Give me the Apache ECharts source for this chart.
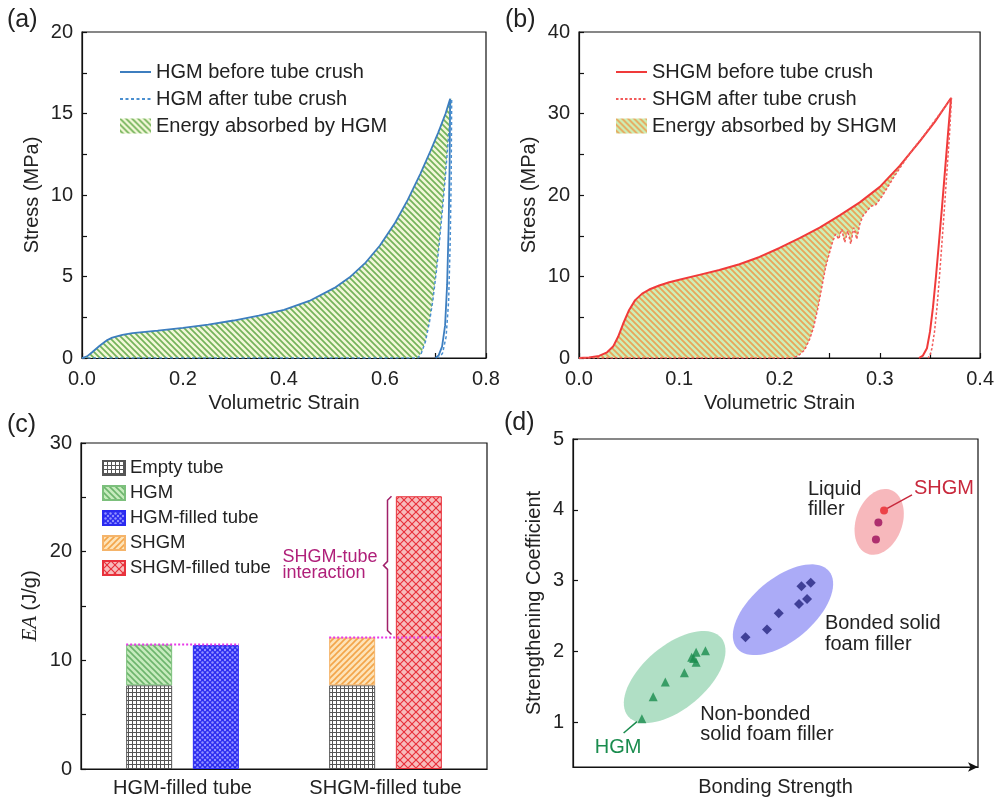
<!DOCTYPE html>
<html>
<head>
<meta charset="utf-8">
<script src="https://cdn.jsdelivr.net/npm/echarts@6/dist/echarts.min.js"></script>
<style>
  html, body { margin: 0; padding: 0; background: #fff; }
  #chart { width: 997px; height: 803px; }
</style>
</head>
<body>
<div id="chart"></div>
<script>
const FONT = '"Liberation Sans", Arial, sans-serif';
const INK = "#222";
const FS = 20;

// (a) HGM stress-strain, before / after tube crush
const hgmLoadX = [0, 0.01, 0.02, 0.035, 0.05, 0.06, 0.08, 0.1, 0.15, 0.2, 0.25, 0.3, 0.35, 0.4, 0.45, 0.5, 0.53, 0.56, 0.59, 0.62, 0.645, 0.67, 0.69, 0.705, 0.72, 0.729];
const hgmLoadY = [0, 0.1, 0.35, 0.75, 1.1, 1.25, 1.42, 1.52, 1.68, 1.85, 2.05, 2.3, 2.6, 2.95, 3.5, 4.3, 4.95, 5.8, 6.9, 8.3, 9.7, 11.3, 12.7, 13.8, 15.0, 15.9];
const hgmUnloadX = [0.728, 0.726, 0.723, 0.719, 0.713, 0.706, 0.7];
const hgmUnloadY = [12, 8, 4.5, 2, 0.7, 0.15, 0];
const hgmAfterLoadX = [0, 0.665, 0.672, 0.68, 0.688, 0.695, 0.702, 0.708, 0.714, 0.72, 0.725, 0.729, 0.732];
const hgmAfterLoadY = [0, 0, 0.3, 1.0, 2.2, 3.6, 5.4, 7.2, 9.2, 11.3, 13.3, 14.8, 15.9];
const hgmAfterUnloadX = [0.731, 0.729, 0.726, 0.721, 0.714, 0.707];
const hgmAfterUnloadY = [11, 7, 3.5, 1.3, 0.3, 0];

// (b) SHGM stress-strain
const shgmLoadX = [0, 0.01, 0.02, 0.028, 0.034, 0.039, 0.044, 0.05, 0.056, 0.063, 0.07, 0.08, 0.09, 0.1, 0.12, 0.14, 0.16, 0.18, 0.2, 0.22, 0.24, 0.26, 0.28, 0.3, 0.32, 0.34, 0.355, 0.371];
const shgmLoadY = [0, 0.05, 0.25, 0.7, 1.4, 2.6, 4.2, 5.9, 7.1, 7.9, 8.4, 8.9, 9.3, 9.6, 10.2, 10.8, 11.5, 12.4, 13.5, 14.7, 16.0, 17.5, 19.1, 21.0, 23.6, 26.6, 29.0, 31.9];
const shgmUnloadX = [0.368, 0.365, 0.362, 0.359, 0.356, 0.353, 0.35, 0.347, 0.343, 0.339];
const shgmUnloadY = [27.5, 23, 18.5, 14.2, 10, 6.2, 3.2, 1.2, 0.3, 0];
const shgmAfterLoadX = [0, 0.213, 0.219, 0.225, 0.23, 0.234, 0.238, 0.242, 0.246, 0.25, 0.253, 0.256, 0.259, 0.262, 0.265, 0.268, 0.271, 0.274, 0.277, 0.28, 0.283, 0.287, 0.291, 0.296, 0.302, 0.308, 0.314, 0.32, 0.326, 0.333, 0.34, 0.347, 0.354, 0.362, 0.3715];
const shgmAfterLoadY = [0, 0, 0.3, 1.0, 2.3, 3.8, 6.0, 8.6, 11.2, 13.0, 14.3, 15.2, 14.6, 15.8, 14.2, 15.6, 14.0, 16.0, 14.6, 16.4, 17.4, 18.0, 18.6, 18.8, 19.8, 21.0, 22.2, 23.3, 24.4, 25.6, 26.7, 27.8, 29.0, 30.3, 31.9];
const shgmAfterUnloadX = [0.3695, 0.367, 0.3645, 0.362, 0.3595, 0.357, 0.3545, 0.352, 0.35, 0.348];
const shgmAfterUnloadY = [27.5, 23, 18.5, 14.2, 10, 6.2, 3.2, 1.2, 0.3, 0];

// (c) energy absorption
const eaCategories = ["HGM-filled tube", "SHGM-filled tube"];
const eaEmptyTube = [7.7, 7.7];
const eaHgm = [3.75, null];
const eaShgm = [null, 4.4];
const eaHgmFilled = [11.4, null];
const eaShgmFilled = [null, 25.1];

// (d) strengthening coefficient vs bonding strength
const nonBondedX = [1.70, 1.98, 2.28, 2.75, 2.93, 3.04, 3.04, 2.98, 3.27];
const nonBondedY = [1.05, 1.36, 1.57, 1.70, 1.92, 1.99, 1.85, 1.90, 2.01];
const bondedX = [4.26, 4.79, 5.08, 5.58, 5.78, 5.64, 5.87];
const bondedY = [2.20, 2.31, 2.54, 2.67, 2.74, 2.92, 2.97];
const liquidX = [7.48, 7.54];
const liquidY = [3.58, 3.82];
const shgmPointX = [7.68];
const shgmPointY = [3.99];
const ellipseCenterX = [2.51, 5.185, 7.56];
const ellipseCenterY = [1.64, 2.59, 3.83];
const ellipseMajorDX = [1.15, 1.135, 0.287];
const ellipseMajorDY = [0.553, 0.545, 0.451];
const ellipseMinorRatio = [0.52, 0.52, 0.68];
const ellipseColors = ["rgba(150,212,178,0.75)", "rgba(150,150,245,0.8)", "rgba(244,160,165,0.75)"];

function zip(xs, ys) {
  return xs.map((x, i) => [x, ys[i]]);
}

function makePattern(size, bg, paint) {
  const c = document.createElement("canvas");
  c.width = size;
  c.height = size;
  const ctx = c.getContext("2d");
  ctx.fillStyle = bg;
  ctx.fillRect(0, 0, size, size);
  paint(ctx, size);
  return { image: c, repeat: "repeat" };
}

function backLines(color, w) {
  return (ctx, s) => {
    ctx.strokeStyle = color;
    ctx.lineWidth = w;
    ctx.beginPath();
    for (let k = -1; k <= 1; k++) {
      ctx.moveTo(k * s - s, -s);
      ctx.lineTo(k * s + 2 * s, 2 * s);
    }
    ctx.stroke();
  };
}

function fwdLines(color, w) {
  return (ctx, s) => {
    ctx.strokeStyle = color;
    ctx.lineWidth = w;
    ctx.beginPath();
    for (let k = 0; k <= 2; k++) {
      ctx.moveTo(k * s + s, -s);
      ctx.lineTo(k * s - 2 * s, 2 * s);
    }
    ctx.stroke();
  };
}

const hatchHgm = makePattern(6, "#f2f7d8", backLines("#74b35a", 1.7));
const hatchShgm = makePattern(6, "#cdefb6", backLines("#e9a55a", 1.8));
const patEmpty = makePattern(4, "#ffffff", (ctx, s) => {
  ctx.fillStyle = "#555";
  ctx.fillRect(0, 0, s, 1);
  ctx.fillRect(0, 0, 1, s);
});
const patHgm = makePattern(6, "#c6ebbd", backLines("#6db56d", 1.6));
const patHgmFilled = makePattern(5, "#2b2bf0", (ctx, s) => {
  ctx.fillStyle = "#9292ff";
  [[0, 0], [s, 0], [0, s], [s, s], [s / 2, s / 2]].forEach(([x, y]) => {
    ctx.beginPath();
    ctx.arc(x, y, 1.2, 0, Math.PI * 2);
    ctx.fill();
  });
});
const patShgm = makePattern(6, "#fde3b8", fwdLines("#f3a54a", 1.6));
const patShgmFilled = makePattern(8, "#f7bcbc", (ctx, s) => {
  backLines("#e8323c", 1.2)(ctx, s);
  fwdLines("#e8323c", 1.2)(ctx, s);
});

const tickFmt = (step, digits) => (v) => {
  const r = Math.round(v / step * 1000) / 1000;
  return Number.isInteger(r) ? v.toFixed(digits) : "";
};

function valueAxis(gi, min, max, interval, labelStep, digits, name, nameGap) {
  return {
    type: "value", gridIndex: gi, min, max, interval,
    name, nameLocation: "middle", nameGap,
    nameTextStyle: { fontSize: FS, fontFamily: FONT, color: INK },
    axisLine: { show: true, lineStyle: { color: "#111", width: 1.2 } },
    axisTick: { show: true, inside: true, length: 5, lineStyle: { color: "#111", width: 1.2 } },
    axisLabel: { fontSize: FS, fontFamily: FONT, color: INK, margin: 9, formatter: tickFmt(labelStep, digits) },
    splitLine: { show: false },
  };
}

function fillBetween(topX, topY, botX, botY, pattern) {
  return function (params, api) {
    const pts = [];
    for (let i = 0; i < topX.length; i++) pts.push(api.coord([topX[i], topY[i]]));
    for (let i = botX.length - 1; i >= 0; i--) pts.push(api.coord([botX[i], botY[i]]));
    return { type: "polygon", shape: { points: pts }, style: { fill: pattern } };
  };
}

const gridStyle = { show: true, borderColor: "#111", borderWidth: 1.2, backgroundColor: "transparent" };
const legendText = { fontSize: FS, fontFamily: FONT, color: INK, lineHeight: 22 };
const noSymbol = { opacity: 0 };

const chart = echarts.init(document.getElementById("chart"));

const xA = valueAxis(0, 0, 0.8, 0.1, 0.2, 1, "Volumetric Strain", 35);
const yA = valueAxis(0, 0, 20, 2.5, 5, 0, "Stress (MPa)", 40);
const xB = valueAxis(1, 0, 0.4, 0.05, 0.1, 1, "Volumetric Strain", 35);
const yB = valueAxis(1, 0, 40, 5, 10, 0, "Stress (MPa)", 40);
[xA, xB].forEach((a) => { a.axisLabel.margin = 11; });

const yC = valueAxis(2, 0, 30, 5, 10, 0, "{i|EA} (J/g)", 40);
yC.nameTextStyle.rich = { i: { fontFamily: '"Liberation Serif", serif', fontStyle: "italic", fontSize: 21, color: INK } };
const xC = {
  type: "category", gridIndex: 2, data: eaCategories,
  axisLine: { lineStyle: { color: "#111", width: 1.2 } },
  axisTick: { show: false },
  axisLabel: { fontSize: FS, fontFamily: FONT, color: INK, margin: 9 },
};

const yD = {
  type: "value", gridIndex: 3, min: 0.37, max: 5,
  name: "Strengthening Coefficient", nameLocation: "middle", nameGap: 29,
  nameTextStyle: { fontSize: FS, fontFamily: FONT, color: INK },
  axisLine: { show: true, lineStyle: { color: "#111", width: 1.2 } },
  axisTick: { show: true, inside: true, length: 5, customValues: [1, 2, 3, 4, 5], lineStyle: { color: "#111", width: 1.2 } },
  axisLabel: { fontSize: FS, fontFamily: FONT, color: INK, margin: 9, customValues: [1, 2, 3, 4, 5] },
  splitLine: { show: false },
};
const xD = {
  type: "value", gridIndex: 3, min: 0, max: 10,
  name: "Bonding Strength", nameLocation: "middle", nameGap: 10,
  nameTextStyle: { fontSize: FS, fontFamily: FONT, color: INK },
  axisLine: { show: true, symbol: ["none", "arrow"], symbolSize: [7, 10], lineStyle: { color: "#111", width: 1.2 } },
  axisTick: { show: false },
  axisLabel: { show: false },
  splitLine: { show: false },
};

const barBase = { type: "bar", xAxisIndex: 2, yAxisIndex: 2, barWidth: 46, barGap: "45%" };

const option = {
  animation: false,
  backgroundColor: "#fff",
  grid: [
    Object.assign({ left: 82, top: 32, width: 404, height: 326 }, gridStyle),
    Object.assign({ left: 579, top: 32, width: 403, height: 326 }, gridStyle),
    Object.assign({ left: 81, top: 443, width: 406, height: 326 }, gridStyle),
    Object.assign({ left: 573, top: 439, width: 405, height: 328 }, gridStyle),
  ],
  xAxis: [xA, xB, xC, xD],
  yAxis: [yA, yB, yC, yD],
  legend: [
    {
      left: 114, top: 56, orient: "vertical", itemWidth: 31, itemHeight: 15, itemGap: 5,
      selectedMode: false, textStyle: legendText,
      data: [
        { name: "HGM before tube crush", itemStyle: noSymbol },
        { name: "HGM after tube crush", itemStyle: noSymbol },
        { name: "Energy absorbed by HGM", icon: "rect", itemStyle: { color: hatchHgm } },
      ],
    },
    {
      left: 610, top: 56, orient: "vertical", itemWidth: 31, itemHeight: 15, itemGap: 5,
      selectedMode: false, textStyle: legendText,
      data: [
        { name: "SHGM before tube crush", itemStyle: noSymbol },
        { name: "SHGM after tube crush", itemStyle: noSymbol },
        { name: "Energy absorbed by SHGM", icon: "rect", itemStyle: { color: hatchShgm } },
      ],
    },
    {
      left: 97, top: 453, orient: "vertical", itemWidth: 22, itemHeight: 14, itemGap: 5, icon: "rect",
      selectedMode: false, textStyle: Object.assign({}, legendText, { fontSize: 18.5, lineHeight: 20 }),
      data: ["Empty tube", "HGM", "HGM-filled tube", "SHGM", "SHGM-filled tube"],
    },
  ],
  series: [
    // (a)
    {
      type: "custom", name: "Energy absorbed by HGM", xAxisIndex: 0, yAxisIndex: 0, clip: true,
      itemStyle: { color: hatchHgm }, data: [[0, 0]], z: 1,
      renderItem: fillBetween(hgmLoadX, hgmLoadY, hgmAfterLoadX, hgmAfterLoadY, hatchHgm),
    },
    {
      type: "line", name: "HGM before tube crush", xAxisIndex: 0, yAxisIndex: 0, symbol: "none", z: 3,
      data: zip(hgmLoadX.concat(hgmUnloadX), hgmLoadY.concat(hgmUnloadY)),
      lineStyle: { color: "#3d7ebf", width: 1.8 }, itemStyle: { color: "#3d7ebf" },
    },
    {
      type: "line", name: "HGM after tube crush", xAxisIndex: 0, yAxisIndex: 0, symbol: "none", z: 3,
      data: zip(hgmAfterLoadX.concat(hgmAfterUnloadX), hgmAfterLoadY.concat(hgmAfterUnloadY)),
      lineStyle: { color: "#4a8fd0", width: 1.5, type: [3, 2.5] }, itemStyle: { color: "#4a8fd0" },
    },
    // (b)
    {
      type: "custom", name: "Energy absorbed by SHGM", xAxisIndex: 1, yAxisIndex: 1, clip: true,
      itemStyle: { color: hatchShgm }, data: [[0, 0]], z: 1,
      renderItem: fillBetween(shgmLoadX, shgmLoadY, shgmAfterLoadX, shgmAfterLoadY, hatchShgm),
    },
    {
      type: "line", name: "SHGM before tube crush", xAxisIndex: 1, yAxisIndex: 1, symbol: "none", z: 3,
      data: zip(shgmLoadX.concat(shgmUnloadX), shgmLoadY.concat(shgmUnloadY)),
      lineStyle: { color: "#f03a3a", width: 2 }, itemStyle: { color: "#f03a3a" },
    },
    {
      type: "line", name: "SHGM after tube crush", xAxisIndex: 1, yAxisIndex: 1, symbol: "none", z: 3,
      data: zip(shgmAfterLoadX.concat(shgmAfterUnloadX), shgmAfterLoadY.concat(shgmAfterUnloadY)),
      lineStyle: { color: "#f25a5a", width: 1.5, type: [2.5, 2] }, itemStyle: { color: "#f25a5a" },
    },
    // (c)
    Object.assign({ name: "Empty tube", stack: "parts", data: eaEmptyTube,
      itemStyle: { color: patEmpty, borderColor: "#555", borderWidth: 1 } }, barBase),
    Object.assign({ name: "HGM", stack: "parts", data: eaHgm,
      itemStyle: { color: patHgm, borderColor: "#7cc07c", borderWidth: 1 } }, barBase),
    Object.assign({ name: "SHGM", stack: "parts", data: eaShgm,
      itemStyle: { color: patShgm, borderColor: "#f5b46a", borderWidth: 1 } }, barBase),
    Object.assign({ name: "HGM-filled tube", stack: "whole", data: eaHgmFilled,
      itemStyle: { color: patHgmFilled, borderColor: "#2a2af0", borderWidth: 1 } }, barBase),
    Object.assign({ name: "SHGM-filled tube", stack: "whole", data: eaShgmFilled,
      itemStyle: { color: patShgmFilled, borderColor: "#e8323c", borderWidth: 1 } }, barBase),
    // (d)
    {
      type: "custom", xAxisIndex: 3, yAxisIndex: 3, z: 1, silent: true,
      data: ellipseCenterX.map((x, i) => [x, ellipseCenterY[i], ellipseMajorDX[i], ellipseMajorDY[i], ellipseMinorRatio[i]]),
      renderItem(params, api) {
        const c = api.coord([api.value(0), api.value(1)]);
        const e = api.coord([api.value(0) + api.value(2), api.value(1) + api.value(3)]);
        const ux = e[0] - c[0], uy = e[1] - c[1];
        const a = Math.hypot(ux, uy);
        const b = a * api.value(4);
        const cx = ux / a, cy = uy / a;
        const pts = [];
        for (let k = 0; k < 72; k++) {
          const t = (k / 72) * Math.PI * 2;
          const p = a * Math.cos(t), q = b * Math.sin(t);
          pts.push([c[0] + p * cx - q * cy, c[1] + p * cy + q * cx]);
        }
        return { type: "polygon", shape: { points: pts }, style: { fill: ellipseColors[params.dataIndex] } };
      },
    },
    {
      type: "scatter", xAxisIndex: 3, yAxisIndex: 3, symbol: "triangle", symbolSize: 9, z: 3,
      data: zip(nonBondedX, nonBondedY), itemStyle: { color: "#1a8c4e" },
    },
    {
      type: "scatter", xAxisIndex: 3, yAxisIndex: 3, symbol: "diamond", symbolSize: 10, z: 3,
      data: zip(bondedX, bondedY), itemStyle: { color: "#26267e" },
    },
    {
      type: "scatter", xAxisIndex: 3, yAxisIndex: 3, symbol: "circle", symbolSize: 8, z: 3,
      data: zip(liquidX, liquidY), itemStyle: { color: "#9b0d5a" },
    },
    {
      type: "scatter", xAxisIndex: 3, yAxisIndex: 3, symbol: "circle", symbolSize: 8, z: 3,
      data: zip(shgmPointX, shgmPointY), itemStyle: { color: "#e8262a" },
    },
  ],
};

chart.setOption(option);

// annotations, anchored through the axes
const toPx = (gi, pt) => chart.convertToPixel({ xAxisIndex: gi, yAxisIndex: gi }, pt);

function label(x, y, text, extra) {
  return {
    type: "text", x, y, silent: true, z: 10,
    style: Object.assign({ text, fontSize: FS, fontFamily: FONT, fill: INK, align: "left", verticalAlign: "middle" }, extra || {}),
  };
}
function seg(p, q, stroke, extra) {
  return {
    type: "line", silent: true, z: 10,
    shape: { x1: p[0], y1: p[1], x2: q[0], y2: q[1] },
    style: Object.assign({ stroke, lineWidth: 1.5 }, extra || {}),
  };
}

const halfPair = 46 + 46 * 0.45 / 2;
const c0 = toPx(2, [0, eaEmptyTube[0] + eaHgm[0]]);
const c1 = toPx(2, [1, eaEmptyTube[1] + eaShgm[1]]);
const topRed = toPx(2, [1, eaShgmFilled[1]]);
const dotted = { lineWidth: 2, lineDash: [2, 2] };
const bx = c1[0] + 2;
const bTop = topRed[1];
const bBot = c1[1] - 3;
const bMid = (bTop + bBot) / 2;

const graphics = [
  label(7, 20, "(a)", { fontSize: 25 }),
  label(505, 20, "(b)", { fontSize: 25 }),
  label(7, 425, "(c)", { fontSize: 25 }),
  label(504, 423, "(d)", { fontSize: 25 }),
  seg([c0[0] - halfPair, c0[1]], [c0[0] + halfPair, c0[1]], "#e838e8", dotted),
  seg([c1[0] - halfPair, c1[1]], [c1[0] + halfPair, c1[1]], "#e838e8", dotted),
  {
    type: "polyline", silent: true, z: 10,
    shape: { points: [[bx + 4, bTop], [bx, bTop + 4], [bx, bMid - 4], [bx - 4, bMid], [bx, bMid + 4], [bx, bBot - 4], [bx + 4, bBot]] },
    style: { stroke: "#a0206a", lineWidth: 1.5, fill: null },
  },
  label(bx - 105, bMid, "SHGM-tube\ninteraction", { fill: "#b0207a", fontSize: 18, lineHeight: 16 }),
];

const dNotes = [
  { text: "Liquid\nfiller", at: [5.80, 4.14], color: INK, lh: 20 },
  { text: "Bonded solid\nfoam filler", at: [6.22, 2.245], color: INK, lh: 21 },
  { text: "Non-bonded\nsolid foam filler", at: [3.14, 0.97], color: INK, lh: 20 },
  { text: "SHGM", at: [8.42, 4.30], color: "#c8283c", lh: 20 },
  { text: "HGM", at: [0.54, 0.643], color: "#1a8c4e", lh: 20 },
];
dNotes.forEach((n) => {
  const p = toPx(3, n.at);
  graphics.push(label(p[0], p[1], n.text, { fill: n.color, lineHeight: n.lh }));
});
graphics.push(seg(toPx(3, [8.37, 4.21]), toPx(3, [7.76, 4.02]), "#c8283c"));
graphics.push(seg(toPx(3, [1.25, 0.85]), toPx(3, [1.58, 1.01]), "#1a8c4e"));

chart.setOption({ graphic: graphics });
</script>
</body>
</html>
